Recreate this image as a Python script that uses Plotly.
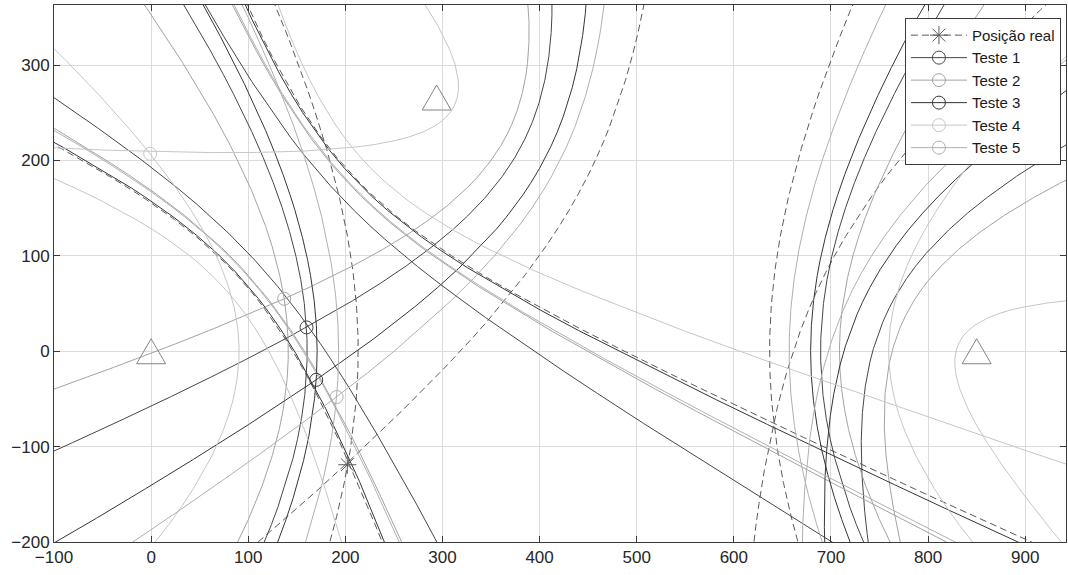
import numpy as np
import plotly.graph_objects as go

# Sensor (receiver) positions
sensor_x = [0, 850, 294]
sensor_y = [0, 0, 266]

series_names = ["Posição real", "Teste 1", "Teste 2", "Teste 3", "Teste 4", "Teste 5"]

# Source positions: true position and the estimate of each test
pos_x = [202, 160, 137, 170, -1, 191]
pos_y = [-119, 25, 55, -30, 207, -48]

# Range differences (same units as the axes) for each sensor pair
d12 = [-423.5, -528.6, -567.5, -508.1, -668.8, -463.8]   # |X-S1| - |X-S2|
d13 = [-158.5, -110.0, -141.0, -156.0, 196.0, -143.0]    # |X-S1| - |X-S3|
d23 = [264.6, 414.8, 452.1, 359.8, 576.0, 330.2]         # |X-S2| - |X-S3|

# Styles
colors = ["#5a5a5a", "#464646", "#a3a3a3", "#353535", "#c6c6c6", "#b0b0b0"]
dashes = ["7px,4px", "solid", "solid", "solid", "solid", "solid"]
symbols = ["asterisk-open", "circle-open", "circle-open", "circle-open", "circle-open", "circle-open"]

XR = [-100, 942]
YR = [-200, 363]


def hyperbola(fi, fj, d):
    """Both branches of |X-Fi| - |X-Fj| = +/-d."""
    fi = np.asarray(fi, float)
    fj = np.asarray(fj, float)
    m = (fi + fj) / 2
    c = np.linalg.norm(fj - fi) / 2
    u = (fj - fi) / (2 * c)
    v = np.array([-u[1], u[0]])
    a = abs(d) / 2
    b = np.sqrt(max(c * c - a * a, 1e-9))
    T = np.arcsinh(4000 / b)
    t = np.linspace(-T, T, 6001)
    xs, ys = [], []
    for s in (1, -1):
        x = m[0] + s * a * np.cosh(t) * u[0] + b * np.sinh(t) * v[0]
        y = m[1] + s * a * np.cosh(t) * u[1] + b * np.sinh(t) * v[1]
        inside = (x > XR[0] - 300) & (x < XR[1] + 300) & (y > YR[0] - 300) & (y < YR[1] + 300)
        keep = inside.copy()
        keep[1:] |= inside[:-1]
        x = np.where(inside, x, np.nan)[keep]
        y = np.where(inside, y, np.nan)[keep]
        xs.extend(np.round(x, 2).tolist() + [None])
        ys.extend(np.round(y, 2).tolist() + [None])
    xs = [None if (q is not None and np.isnan(q)) else q for q in xs]
    ys = [None if (q is not None and np.isnan(q)) else q for q in ys]
    return xs, ys


S = list(zip(sensor_x, sensor_y))
fig = go.Figure()

# Hyperbolas for every series and sensor pair
for k, name in enumerate(series_names):
    for (i, j), d in (((0, 1), d12[k]), ((0, 2), d13[k]), ((1, 2), d23[k])):
        hx, hy = hyperbola(S[i], S[j], d)
        fig.add_trace(go.Scatter(
            x=hx, y=hy, mode="lines", connectgaps=False,
            line=dict(color=colors[k], width=1, dash=dashes[k]),
            showlegend=False, hoverinfo="skip"))

# Sensors: open triangles sized in pixels around each sensor position
tri_path = "M-14.5,-12.5 L14.5,-12.5 L0,12.5 Z"
for sx, sy in S:
    fig.add_shape(type="path", xref="x", yref="y",
                  xsizemode="pixel", ysizemode="pixel",
                  xanchor=sx, yanchor=sy, path=tri_path,
                  line=dict(color="#858585", width=1), fillcolor="rgba(0,0,0,0)")

# Position markers (also carry the legend entries)
for k, name in enumerate(series_names):
    is_star = symbols[k] == "asterisk-open"
    fig.add_trace(go.Scatter(
        x=[pos_x[k]], y=[pos_y[k]], mode="lines+markers", name=name,
        line=dict(color=colors[k], width=1, dash=dashes[k]),
        marker=dict(symbol=symbols[k], size=15 if is_star else 13,
                    color=colors[k], line=dict(width=1, color=colors[k]))))

axis_common = dict(
    showgrid=True, gridcolor="#dcdcdc", gridwidth=1,
    zeroline=False, showline=True, linecolor="#3a3a3a", linewidth=1,
    mirror="ticks", ticks="inside", ticklen=6, tickcolor="#3a3a3a",
    tickfont=dict(family="Liberation Sans, Arial, sans-serif", size=17, color="#262626"),
)

fig.update_layout(
    width=1068, height=575,
    margin=dict(l=54, r=2, t=5, b=33),
    paper_bgcolor="white", plot_bgcolor="white",
    xaxis=dict(range=XR, tickvals=list(range(-100, 901, 100)), **axis_common),
    yaxis=dict(range=YR, tickvals=list(range(-200, 301, 100)), **axis_common),
    legend=dict(
        x=0.995, y=0.976, xanchor="right", yanchor="top",
        bgcolor="white", bordercolor="#3a3a3a", borderwidth=1,
        font=dict(family="Liberation Sans, Arial, sans-serif", size=15, color="#1a1a1a"),
        itemwidth=56,
    ),
    showlegend=True,
)

fig.write_html("out.html")
